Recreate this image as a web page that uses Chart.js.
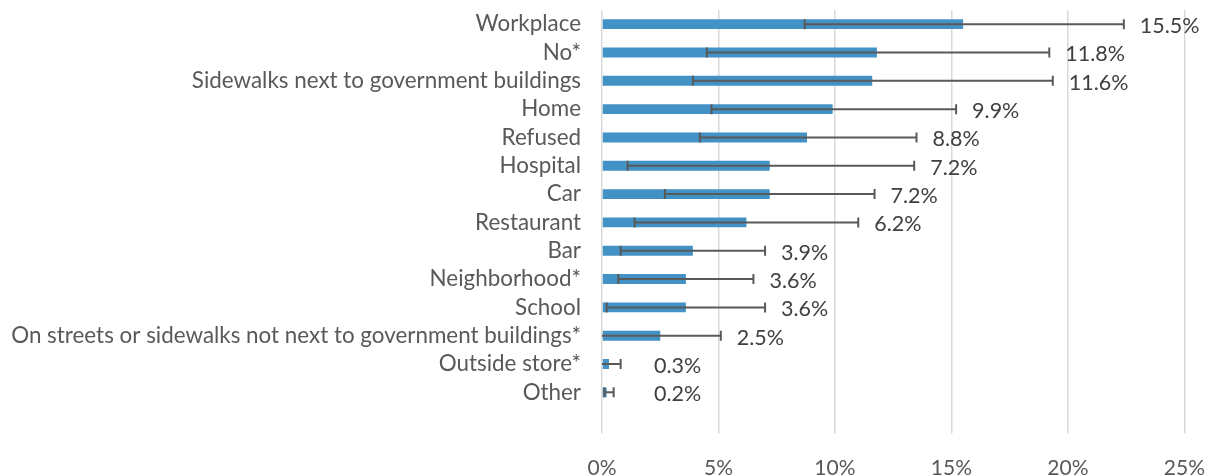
<!DOCTYPE html>
<html lang="en">
<head>
    <meta charset="UTF-8">
    <title>Locations</title>
    <style>
        body {
            margin: 0;
            background: #fff;
        }
        .chart-container {
            width: 1227px;
            height: 476px;
            position: relative;
        }
    </style>
</head>
<body>
    <div class="chart-container">
        <canvas id="barChart"></canvas>
    </div>

    <script src="https://cdn.jsdelivr.net/npm/chart.js"></script>
    <script>
        const categories = [
            'Workplace', 'No*', 'Sidewalks next to government buildings', 'Home', 'Refused',
            'Hospital', 'Car', 'Restaurant', 'Bar', 'Neighborhood*', 'School',
            'On streets or sidewalks not next to government buildings*', 'Outside store*', 'Other'
        ];
        const values = [15.5, 11.8, 11.6, 9.9, 8.8, 7.2, 7.2, 6.2, 3.9, 3.6, 3.6, 2.5, 0.3, 0.2];
        // confidence interval ends, read from the whiskers
        const errLow = [8.7, 4.5, 3.9, 4.7, 4.2, 1.1, 2.7, 1.4, 0.8, 0.7, 0.2, -0.5, -0.2, 0.1];
        const errHigh = [22.4, 19.2, 19.35, 15.2, 13.5, 13.4, 11.7, 11.0, 7.0, 6.5, 7.0, 5.1, 0.8, 0.5];
        const xTicks = [0, 5, 10, 15, 20, 25];

        const FONT = 'Lato, "Open Sans", sans-serif';

        // whiskers + value labels
        const errorBars = {
            id: 'errorBars',
            afterDatasetsDraw(chart) {
                const { ctx, chartArea, scales: { x, y } } = chart;
                ctx.save();
                ctx.beginPath();
                ctx.rect(chartArea.left, chartArea.top, chartArea.width, chartArea.height);
                ctx.clip();
                ctx.strokeStyle = '#595959';
                ctx.lineWidth = 2;
                categories.forEach((c, i) => {
                    const yc = y.getPixelForValue(i);
                    const x0 = x.getPixelForValue(errLow[i]);
                    const x1 = x.getPixelForValue(errHigh[i]);
                    ctx.beginPath();
                    ctx.moveTo(x0, yc); ctx.lineTo(x1, yc);
                    ctx.moveTo(x0, yc - 5); ctx.lineTo(x0, yc + 5);
                    ctx.moveTo(x1, yc - 5); ctx.lineTo(x1, yc + 5);
                    ctx.stroke();
                });
                ctx.restore();

                ctx.save();
                ctx.fillStyle = '#404040';
                ctx.font = '21.5px ' + FONT;
                ctx.textBaseline = 'middle';
                ctx.textAlign = 'left';
                values.forEach((v, i) => {
                    const yc = y.getPixelForValue(i);
                    const lx = Math.max(x.getPixelForValue(errHigh[i]) + 16, chartArea.left + 52);
                    ctx.fillText(v.toFixed(1) + '%', lx, yc + 2);
                });
                ctx.restore();
            }
        };

        const ctx = document.getElementById('barChart').getContext('2d');
        new Chart(ctx, {
            type: 'bar',
            data: {
                labels: categories,
                datasets: [{
                    data: values,
                    backgroundColor: '#4292c6',
                    barPercentage: 0.35,
                    categoryPercentage: 1
                }]
            },
            options: {
                indexAxis: 'y',
                responsive: true,
                maintainAspectRatio: false,
                animation: false,
                layout: {
                    padding: { top: 10, right: 39, bottom: 0, left: 0 }
                },
                plugins: {
                    legend: { display: false },
                    tooltip: { enabled: false }
                },
                scales: {
                    x: {
                        min: 0,
                        max: 25,
                        afterBuildTicks(scale) {
                            scale.ticks = xTicks.map(v => ({ value: v }));
                        },
                        afterFit(scale) {
                            scale.height = 69.5;
                        },
                        grid: {
                            color: '#d9d9d9',
                            lineWidth: 1.5,
                            tickLength: 27,
                            tickColor: '#d9d9d9'
                        },
                        border: { display: false },
                        ticks: {
                            padding: 22,
                            color: '#595959',
                            font: { family: FONT, size: 21 },
                            callback: v => v + '%'
                        }
                    },
                    y: {
                        grid: { display: false, drawTicks: false },
                        border: { display: false },
                        afterFit(scale) {
                            scale.width = 602;
                            scale.paddingTop = 0;
                            scale.paddingBottom = 0;
                        },
                        ticks: {
                            autoSkip: false,
                            padding: 21,
                            color: '#595959',
                            font: { family: FONT, size: 22.4 }
                        }
                    }
                }
            },
            plugins: [errorBars]
        });
    </script>
</body>
</html>
